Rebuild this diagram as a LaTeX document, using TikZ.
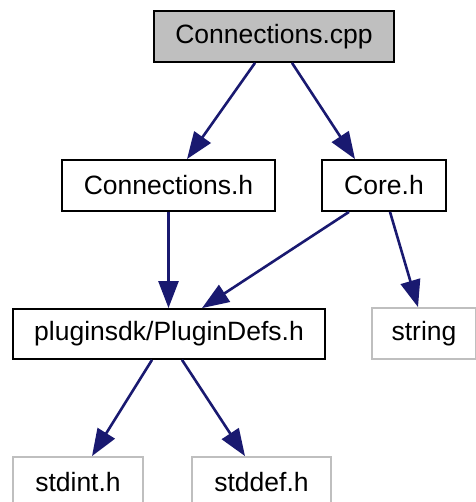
\documentclass[tikz,border=0pt]{standalone}
\usepackage{fontspec}
\setmainfont{Liberation Sans}
\usetikzlibrary{arrows.meta}
\definecolor{edgeblue}{HTML}{191970}
\definecolor{boxgray}{HTML}{BFBFBF}
\definecolor{linegray}{HTML}{BFBFBF}
\tikzset{
  box/.style={draw=black, line width=1.8pt, inner sep=0pt, font=\fontsize{26.5}{29}\selectfont},
  extbox/.style={draw=linegray, line width=1.8pt, inner sep=0pt, font=\fontsize{26.5}{29}\selectfont},
  conn/.style={draw=edgeblue, line width=2.6pt, -{Triangle[length=27pt,width=20pt]}}
}
\begin{document}
\begin{tikzpicture}
\useasboundingbox (0,0) rectangle (475pt,-502pt);
\node[box, fill=boxgray, minimum width=240pt, minimum height=51pt] (cpp) at (274pt,-36.5pt) {Connections.cpp};
\node[box, minimum width=213pt, minimum height=51pt] (ch) at (168.5pt,-185.5pt) {Connections.h};
\node[box, minimum width=124pt, minimum height=51pt] (core) at (384pt,-185.5pt) {Core.h};
\node[box, minimum width=312pt, minimum height=50pt] (pd) at (169pt,-334pt) {pluginsdk/PluginDefs.h};
\node[extbox, minimum width=104pt, minimum height=51pt] (str) at (424pt,-333.5pt) {string};
\node[extbox, minimum width=130pt, minimum height=51pt] (si) at (78pt,-482.5pt) {stdint.h};
\node[extbox, minimum width=139pt, minimum height=51pt] (sd) at (261.5pt,-482.5pt) {stddef.h};
\draw[conn] (cpp.south -| 255pt,0) -- (ch.north -| 187pt,0);
\draw[conn] (cpp.south -| 292pt,0) -- (core.north -| 355pt,0);
\draw[conn] (ch.south) -- (pd.north -| ch.south);
\draw[conn] (core.south -| 349pt,0) -- (pd.north -| 202pt,0);
\draw[conn] (core.south -| 390pt,0) -- (str.north -| 418pt,0);
\draw[conn] (pd.south -| 152pt,0) -- (si.north -| 92pt,0);
\draw[conn] (pd.south -| 182pt,0) -- (sd.north -| 245pt,0);
\end{tikzpicture}
\end{document}
